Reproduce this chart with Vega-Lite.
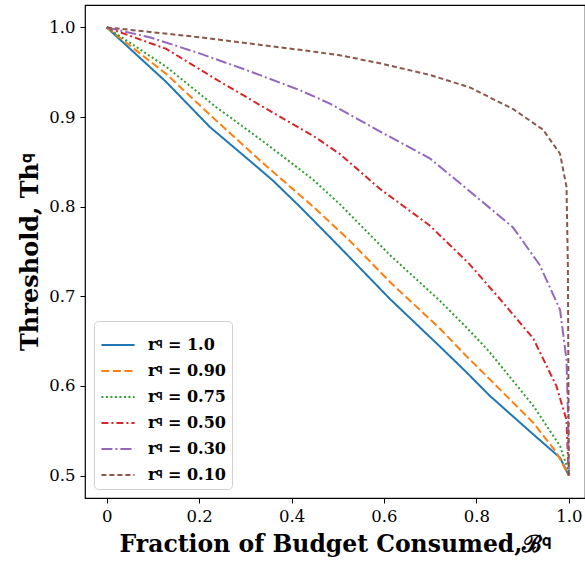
{
  "$schema": "https://vega.github.io/schema/vega-lite/v6.json",
  "width": 500,
  "height": 493,
  "autosize": {"type": "none"},
  "padding": {"left": 85, "top": 5, "right": 0, "bottom": 68},
  "background": "white",
  "config": {
    "view": {"stroke": "black", "strokeWidth": 1.2},
    "axis": {
      "grid": false,
      "domain": false,
      "tickColor": "black",
      "tickSize": 5,
      "tickWidth": 1,
      "labelFont": "DejaVu Serif",
      "labelFontSize": 16.5,
      "labelColor": "black",
      "labelPadding": 5,
      "titleFont": "DejaVu Serif",
      "titleFontSize": 21,
      "titleFontWeight": "bold",
      "titleColor": "black"
    },
    "legend": {
      "orient": "bottom-left",
      "offset": 9,
      "fillColor": "white",
      "strokeColor": "#d0d0d0",
      "cornerRadius": 4,
      "padding": 6,
      "symbolType": "stroke",
      "symbolSize": 1100,
      "symbolStrokeWidth": 2,
      "labelFont": "DejaVu Serif",
      "labelFontWeight": "bold",
      "labelFontSize": 16,
      "labelColor": "black",
      "labelOffset": 12,
      "rowPadding": 0
    }
  },
  "data": {
    "values": [
      {"x": 0, "y": 1.0, "r": "r𐞥 = 1.0"},
      {"x": 0.129, "y": 0.939, "r": "r𐞥 = 1.0"},
      {"x": 0.223, "y": 0.889, "r": "r𐞥 = 1.0"},
      {"x": 0.317, "y": 0.848, "r": "r𐞥 = 1.0"},
      {"x": 0.36, "y": 0.829, "r": "r𐞥 = 1.0"},
      {"x": 0.418, "y": 0.8, "r": "r𐞥 = 1.0"},
      {"x": 0.504, "y": 0.755, "r": "r𐞥 = 1.0"},
      {"x": 0.613, "y": 0.697, "r": "r𐞥 = 1.0"},
      {"x": 0.721, "y": 0.644, "r": "r𐞥 = 1.0"},
      {"x": 0.779, "y": 0.615, "r": "r𐞥 = 1.0"},
      {"x": 0.829, "y": 0.589, "r": "r𐞥 = 1.0"},
      {"x": 0.923, "y": 0.546, "r": "r𐞥 = 1.0"},
      {"x": 0.981, "y": 0.52, "r": "r𐞥 = 1.0"},
      {"x": 1.0, "y": 0.5, "r": "r𐞥 = 1.0"},

      {"x": 0, "y": 1.0, "r": "r𐞥 = 0.90"},
      {"x": 0.129, "y": 0.948, "r": "r𐞥 = 0.90"},
      {"x": 0.237, "y": 0.896, "r": "r𐞥 = 0.90"},
      {"x": 0.346, "y": 0.845, "r": "r𐞥 = 0.90"},
      {"x": 0.447, "y": 0.8, "r": "r𐞥 = 0.90"},
      {"x": 0.526, "y": 0.762, "r": "r𐞥 = 0.90"},
      {"x": 0.613, "y": 0.716, "r": "r𐞥 = 0.90"},
      {"x": 0.721, "y": 0.664, "r": "r𐞥 = 0.90"},
      {"x": 0.779, "y": 0.633, "r": "r𐞥 = 0.90"},
      {"x": 0.822, "y": 0.611, "r": "r𐞥 = 0.90"},
      {"x": 0.923, "y": 0.559, "r": "r𐞥 = 0.90"},
      {"x": 0.973, "y": 0.526, "r": "r𐞥 = 0.90"},
      {"x": 1.0, "y": 0.5, "r": "r𐞥 = 0.90"},

      {"x": 0, "y": 1.0, "r": "r𐞥 = 0.75"},
      {"x": 0.129, "y": 0.956, "r": "r𐞥 = 0.75"},
      {"x": 0.237, "y": 0.911, "r": "r𐞥 = 0.75"},
      {"x": 0.346, "y": 0.87, "r": "r𐞥 = 0.75"},
      {"x": 0.447, "y": 0.83, "r": "r𐞥 = 0.75"},
      {"x": 0.504, "y": 0.803, "r": "r𐞥 = 0.75"},
      {"x": 0.613, "y": 0.746, "r": "r𐞥 = 0.75"},
      {"x": 0.721, "y": 0.695, "r": "r𐞥 = 0.75"},
      {"x": 0.779, "y": 0.665, "r": "r𐞥 = 0.75"},
      {"x": 0.825, "y": 0.64, "r": "r𐞥 = 0.75"},
      {"x": 0.923, "y": 0.578, "r": "r𐞥 = 0.75"},
      {"x": 0.981, "y": 0.533, "r": "r𐞥 = 0.75"},
      {"x": 0.998, "y": 0.507, "r": "r𐞥 = 0.75"},
      {"x": 1.0, "y": 0.5, "r": "r𐞥 = 0.75"},

      {"x": 0, "y": 1.0, "r": "r𐞥 = 0.50"},
      {"x": 0.129, "y": 0.976, "r": "r𐞥 = 0.50"},
      {"x": 0.237, "y": 0.942, "r": "r𐞥 = 0.50"},
      {"x": 0.346, "y": 0.909, "r": "r𐞥 = 0.50"},
      {"x": 0.447, "y": 0.879, "r": "r𐞥 = 0.50"},
      {"x": 0.504, "y": 0.859, "r": "r𐞥 = 0.50"},
      {"x": 0.591, "y": 0.82, "r": "r𐞥 = 0.50"},
      {"x": 0.699, "y": 0.779, "r": "r𐞥 = 0.50"},
      {"x": 0.783, "y": 0.737, "r": "r𐞥 = 0.50"},
      {"x": 0.851, "y": 0.697, "r": "r𐞥 = 0.50"},
      {"x": 0.923, "y": 0.653, "r": "r𐞥 = 0.50"},
      {"x": 0.973, "y": 0.6, "r": "r𐞥 = 0.50"},
      {"x": 0.995, "y": 0.562, "r": "r𐞥 = 0.50"},
      {"x": 0.999, "y": 0.51, "r": "r𐞥 = 0.50"},
      {"x": 1.0, "y": 0.5, "r": "r𐞥 = 0.50"},

      {"x": 0, "y": 1.0, "r": "r𐞥 = 0.30"},
      {"x": 0.093, "y": 0.989, "r": "r𐞥 = 0.30"},
      {"x": 0.201, "y": 0.971, "r": "r𐞥 = 0.30"},
      {"x": 0.31, "y": 0.951, "r": "r𐞥 = 0.30"},
      {"x": 0.418, "y": 0.93, "r": "r𐞥 = 0.30"},
      {"x": 0.483, "y": 0.915, "r": "r𐞥 = 0.30"},
      {"x": 0.591, "y": 0.884, "r": "r𐞥 = 0.30"},
      {"x": 0.699, "y": 0.854, "r": "r𐞥 = 0.30"},
      {"x": 0.786, "y": 0.817, "r": "r𐞥 = 0.30"},
      {"x": 0.879, "y": 0.777, "r": "r𐞥 = 0.30"},
      {"x": 0.937, "y": 0.735, "r": "r𐞥 = 0.30"},
      {"x": 0.981, "y": 0.685, "r": "r𐞥 = 0.30"},
      {"x": 0.995, "y": 0.629, "r": "r𐞥 = 0.30"},
      {"x": 0.998, "y": 0.573, "r": "r𐞥 = 0.30"},
      {"x": 1.0, "y": 0.5, "r": "r𐞥 = 0.30"},

      {"x": 0, "y": 1.0, "r": "r𐞥 = 0.10"},
      {"x": 0.093, "y": 0.995, "r": "r𐞥 = 0.10"},
      {"x": 0.201, "y": 0.989, "r": "r𐞥 = 0.10"},
      {"x": 0.31, "y": 0.982, "r": "r𐞥 = 0.10"},
      {"x": 0.418, "y": 0.975, "r": "r𐞥 = 0.10"},
      {"x": 0.504, "y": 0.969, "r": "r𐞥 = 0.10"},
      {"x": 0.591, "y": 0.96, "r": "r𐞥 = 0.10"},
      {"x": 0.699, "y": 0.947, "r": "r𐞥 = 0.10"},
      {"x": 0.786, "y": 0.933, "r": "r𐞥 = 0.10"},
      {"x": 0.879, "y": 0.909, "r": "r𐞥 = 0.10"},
      {"x": 0.944, "y": 0.886, "r": "r𐞥 = 0.10"},
      {"x": 0.981, "y": 0.859, "r": "r𐞥 = 0.10"},
      {"x": 0.995, "y": 0.822, "r": "r𐞥 = 0.10"},
      {"x": 0.998, "y": 0.733, "r": "r𐞥 = 0.10"},
      {"x": 1.0, "y": 0.5, "r": "r𐞥 = 0.10"}
    ]
  },
  "mark": {"type": "line", "strokeWidth": 2, "clip": true},
  "encoding": {
    "x": {
      "field": "x",
      "type": "quantitative",
      "scale": {"domain": [-0.047, 1.035], "nice": false, "zero": false},
      "axis": {
        "values": [0, 0.2, 0.4, 0.6, 0.8, 1.0],
        "labelExpr": "datum.value == 0 ? '0' : format(datum.value, '.1f')",
        "title": "Fraction of Budget Consumed,ℬ𐞥",
        "titleFontSize": 23.5,
        "titlePadding": 8
      }
    },
    "y": {
      "field": "y",
      "type": "quantitative",
      "scale": {"domain": [0.475, 1.025], "nice": false, "zero": false},
      "axis": {
        "values": [0.5, 0.6, 0.7, 0.8, 0.9, 1.0],
        "format": ".1f",
        "title": "Threshold, Th𐞥",
        "titleFontSize": 24,
        "titlePadding": 6
      }
    },
    "color": {
      "field": "r",
      "type": "nominal",
      "scale": {
        "domain": ["r𐞥 = 1.0", "r𐞥 = 0.90", "r𐞥 = 0.75", "r𐞥 = 0.50", "r𐞥 = 0.30", "r𐞥 = 0.10"],
        "range": ["#1f77b4", "#ff7f0e", "#2ca02c", "#d62728", "#9467bd", "#8c564b"]
      },
      "legend": {"title": null}
    },
    "strokeDash": {
      "field": "r",
      "type": "nominal",
      "scale": {
        "domain": ["r𐞥 = 1.0", "r𐞥 = 0.90", "r𐞥 = 0.75", "r𐞥 = 0.50", "r𐞥 = 0.30", "r𐞥 = 0.10"],
        "range": [[1, 0], [8, 3.5], [2, 2.5], [7, 3, 2, 3], [11, 3, 2, 3], [5, 3]]
      },
      "legend": {"title": null}
    }
  }
}
